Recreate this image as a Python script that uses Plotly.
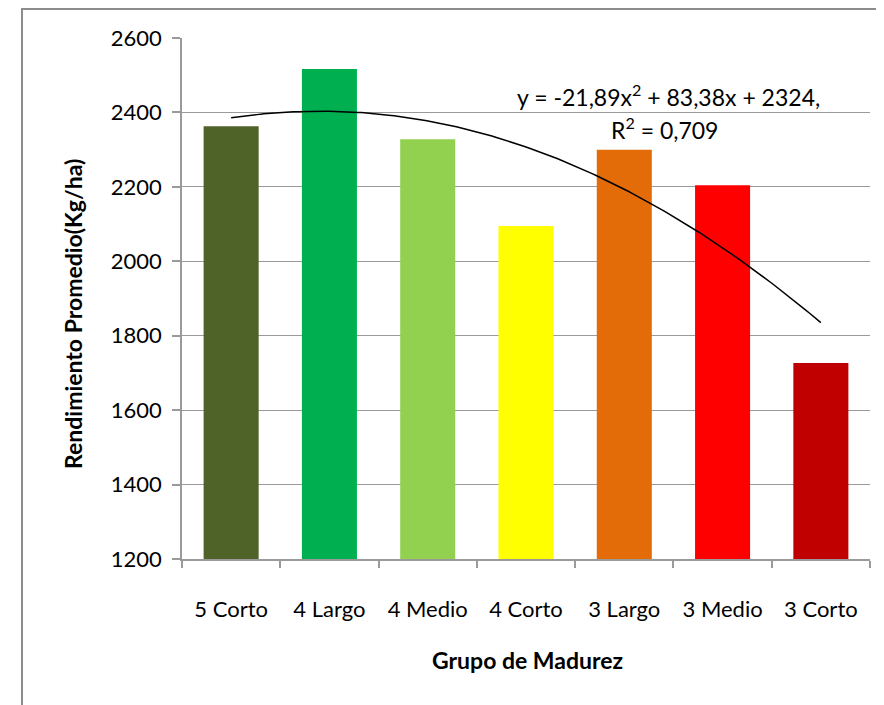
import numpy as np
import plotly.graph_objects as go

categories = ["5 Corto", "4 Largo", "4 Medio", "4 Corto", "3 Largo", "3 Medio", "3 Corto"]
rendimiento = [2363, 2517, 2328, 2095, 2300, 2204, 1727]
bar_colors = ["#4F6228", "#00B050", "#92D050", "#FFFF00", "#E36C09", "#FF0000", "#C00000"]
trend_coeffs = [-21.89, 83.38, 2324]  # y = a x^2 + b x + c (from chart label)
y_ticks = [1200, 1400, 1600, 1800, 2000, 2200, 2400, 2600]

x_pos = list(range(1, len(categories) + 1))
x_fine = np.linspace(1, len(categories), 200)
y_fine = np.polyval(trend_coeffs, x_fine)

FONT = "Lato"
GRAY = "#9a9a9a"

# page has an 8px body margin; figure occupies (8..884, 8..705)
OFF = 8
W, H = 884 - OFF, 705 - OFF
# reference plot area: x 182..870, y 38..559
L, R, T, B = 182 - OFF, 884 - 870, 38 - OFF, 705 - 559
pw, ph = W - L - R, H - T - B

def px_x(px):  # reference page px -> paper
    return (px - OFF - L) / pw

def px_y(py):
    return (H - B - (py - OFF)) / ph

fig = go.Figure()
fig.add_trace(go.Bar(x=x_pos, y=rendimiento, marker=dict(color=bar_colors, line=dict(width=0)),
                     width=0.56, showlegend=False, hoverinfo="x+y"))
fig.add_trace(go.Scatter(x=x_fine, y=y_fine, mode="lines", line=dict(color="black", width=1.5),
                         showlegend=False, hoverinfo="skip"))

fig.update_layout(
    width=W, height=H,
    margin=dict(l=L, r=R, t=T, b=B),
    plot_bgcolor="white", paper_bgcolor="white",
    font=dict(family=FONT, size=22, color="black"),
    xaxis=dict(
        range=[0.5, len(categories) + 0.5],
        tickmode="array", tickvals=x_pos, ticktext=categories,
        ticks="", showgrid=False, zeroline=False,
        showline=True, linecolor=GRAY, linewidth=1.5,
        tickfont=dict(size=22),
        ticklabelstandoff=30,
        minor=dict(tickmode="array", tickvals=[i + 0.5 for i in range(0, len(categories) + 1)],
                   ticks="outside", ticklen=7, tickcolor=GRAY, tickwidth=1.5, showgrid=False),
    ),
    yaxis=dict(
        range=[1200, 2600], tickmode="array", tickvals=y_ticks,
        ticks="outside", ticklen=8, tickcolor=GRAY, tickwidth=1.5,
        showgrid=True, gridcolor=GRAY, gridwidth=1.2, zeroline=False,
        showline=True, linecolor=GRAY, linewidth=1.5,
        tickfont=dict(size=22),
        ticklabelstandoff=6,
    ),
    shapes=[dict(type="path", xref="paper", yref="paper",
                 path=f"M {px_x(22)} {px_y(720)} L {px_x(22)} {px_y(9)} L {px_x(900)} {px_y(9)}",
                 line=dict(color="#8c8c8c", width=2))],
    annotations=[
        dict(xref="paper", yref="paper", x=px_x(527), y=px_y(660),
             text="<b>Grupo de Madurez</b>", showarrow=False,
             font=dict(size=23), xanchor="center", yanchor="middle"),
        dict(xref="paper", yref="paper", x=px_x(73), y=px_y(314),
             text="<b>Rendimiento Promedio(Kg/ha)</b>", showarrow=False, textangle=-90,
             font=dict(size=23), xanchor="center", yanchor="middle"),
        dict(xref="paper", yref="paper", x=px_x(668), y=px_y(95),
             text="y = -21,89x<sup>2</sup> + 83,38x + 2324,", showarrow=False,
             font=dict(size=23), xanchor="center", yanchor="middle"),
        dict(xref="paper", yref="paper", x=px_x(664), y=px_y(129),
             text="R<sup>2</sup> = 0,709", showarrow=False,
             font=dict(size=23), xanchor="center", yanchor="middle"),
    ],
)

fig.write_html("out.html")
